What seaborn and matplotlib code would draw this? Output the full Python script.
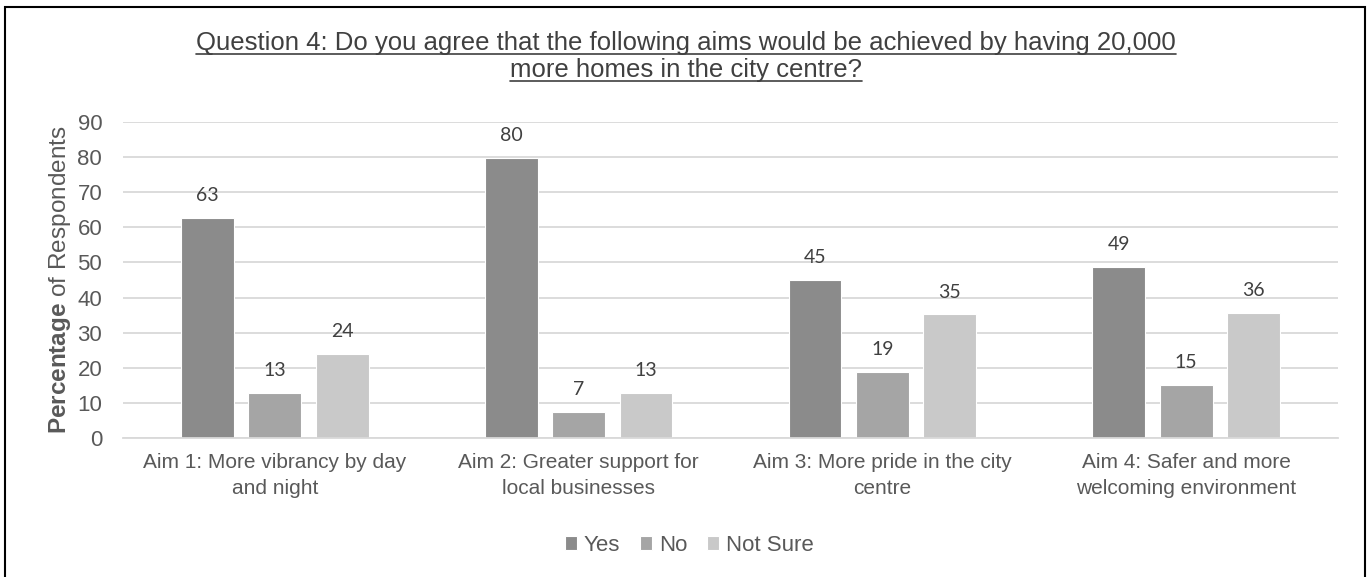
import numpy as np
import pandas as pd
import matplotlib
matplotlib.use("Agg")
import matplotlib.pyplot as plt
import seaborn as sns
from matplotlib.lines import Line2D
from matplotlib.patches import Rectangle

# =========================
# DATA
# =========================
aims = [
    "Aim 1: More vibrancy by day\nand night",
    "Aim 2: Greater support for\nlocal businesses",
    "Aim 3: More pride in the city\ncentre",
    "Aim 4: Safer and more\nwelcoming environment",
]
answers = ["Yes", "No", "Not Sure"]
yes_pct = [62.7, 79.8, 45.1, 48.8]
no_pct = [12.8, 7.3, 18.7, 15.0]
notsure_pct = [23.9, 12.8, 35.2, 35.7]
y_ticks = list(range(0, 91, 10))

title_lines = [
    "Question 4: Do you agree that the following aims would be achieved by having 20,000",
    "more homes in the city centre?",
]

df = pd.DataFrame({
    "aim": aims * 3,
    "answer": np.repeat(answers, len(aims)),
    "pct": yes_pct + no_pct + notsure_pct,
})

# =========================
# STYLE
# =========================
sns.set_theme("paper", style="white")
plt.rcParams["font.family"] = ["Liberation Sans", "DejaVu Sans"]
plt.rcParams["mathtext.fontset"] = "custom"
plt.rcParams["mathtext.rm"] = "Liberation Sans"
plt.rcParams["mathtext.bf"] = "Liberation Sans:bold"

colors = ["#8b8b8b", "#a5a5a5", "#c9c9c9"]
text_grey = "#595959"
grid_grey = "#d9d9d9"

fig = plt.figure(figsize=(13.7, 5.77), dpi=100)
ax = fig.add_axes([0.0898, 0.2409, 0.8868, 0.5477])

sns.barplot(data=df, x="aim", y="pct", hue="answer", hue_order=answers,
            palette=colors, width=0.665, gap=0.215, saturation=1,
            ax=ax, legend=True)

for cont in ax.containers:
    ax.bar_label(cont, fmt="%.0f", padding=10, fontsize=14,
                 family="Lato", color="#404040")

ax.set_ylim(0, 90)
ax.set_yticks(y_ticks)
ax.yaxis.grid(True, color=grid_grey, lw=1.3)
ax.set_axisbelow(True)
for s in ["top", "right", "left"]:
    ax.spines[s].set_visible(False)
ax.spines["bottom"].set_color(grid_grey)
ax.spines["bottom"].set_linewidth(1.3)
ax.tick_params(axis="y", length=0, pad=15, labelsize=16, labelcolor=text_grey)
ax.tick_params(axis="x", length=0, pad=11, labelsize=15, labelcolor=text_grey)
for lbl in ax.get_xticklabels():
    lbl.set_linespacing(1.45)
ax.set_xlabel("")
ax.set_ylabel(r"$\mathbf{Percentage}$ of Respondents", fontsize=17.5,
              color=text_grey, labelpad=3)

# legend below the axes
handles, labels = ax.get_legend_handles_labels()
ax.legend_.remove()
fig.legend(handles, labels, loc="center", bbox_to_anchor=(0.503, 0.055),
           ncol=3, frameon=False, fontsize=16, labelcolor=text_grey,
           handlelength=0.55, handleheight=0.55, handletextpad=0.3,
           columnspacing=0.9)

# underlined two line title
fig.canvas.draw()
renderer = fig.canvas.get_renderer()
title_y = [0.914, 0.866]
for line, ty in zip(title_lines, title_y):
    t = fig.text(0.501, ty, line, ha="center", va="baseline",
                 fontsize=18.5, color="#404040")
    bb = t.get_window_extent(renderer).transformed(fig.transFigure.inverted())
    fig.add_artist(Line2D([bb.x0, bb.x1], [ty - 0.007, ty - 0.007],
                          color="#404040", lw=1.2, transform=fig.transFigure))

# outer frame
fig.add_artist(Rectangle((5 / 1370, -0.05), 1360 / 1370, 1.05 - 7 / 577,
                         fill=False, ec="black", lw=1.5,
                         transform=fig.transFigure, clip_on=False))

fig.savefig("out.png", dpi=100)
